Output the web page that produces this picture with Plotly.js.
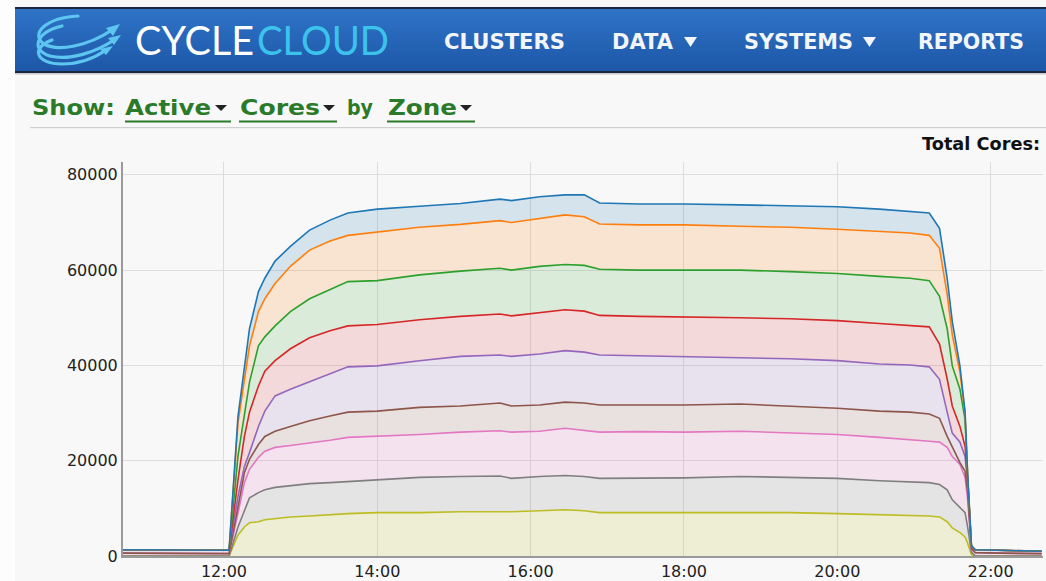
<!DOCTYPE html>
<html>
<head>
<meta charset="utf-8">
<script src="https://cdn.plot.ly/plotly-3.0.1.min.js"></script>
<style>
  html, body { margin: 0; padding: 0; width: 1046px; height: 581px; overflow: hidden; background: #fdfdfd; }
  #panel { position: absolute; left: 15px; top: 0; width: 1031px; height: 581px; background: #f8f8f8; }
  #chart { position: absolute; left: 0; top: 0; width: 1046px; height: 581px; }
  #hdr { position: absolute; left: 0; top: 0; width: 1046px; height: 160px; pointer-events: none; }
</style>
</head>
<body>
<div id="panel"></div>
<div id="chart"></div>
<svg id="hdr" width="1046" height="160" xmlns="http://www.w3.org/2000/svg">
  <defs>
    <linearGradient id="bar" x1="0" y1="0" x2="0" y2="1">
      <stop offset="0" stop-color="#2f74c8"/>
      <stop offset="1" stop-color="#1d56a6"/>
    </linearGradient>
  </defs>
  <rect x="15" y="8" width="1031" height="64" fill="url(#bar)"/>
  <rect x="15" y="7" width="1031" height="2" fill="#1a2740"/>
  <rect x="15" y="71" width="1031" height="2" fill="#1a2740"/>
  <rect x="15" y="73" width="1031" height="1.5" fill="#c8c8c8"/>
  <!-- logo swirl -->
  <g fill="none" stroke="#5cc6f0" stroke-width="3.2" stroke-linecap="round">
    <path d="M 78 16 C 45 18, 30 34, 44 44 C 58 52, 88 46, 112 30"/>
    <path d="M 62 26 C 36 32, 30 50, 50 56 C 70 61, 96 52, 114 40"/>
    <path d="M 52 40 C 30 48, 36 64, 62 64 C 80 64, 96 57, 106 50"/>
  </g>
  <g fill="#5cc6f0">
    <polygon points="120,24 106,28 113,36"/>
    <polygon points="121,35 108,38 114,45"/>
    <polygon points="113,46 100,49 106,55"/>
  </g>
  <text x="135" y="55" font-family="Lato, 'Open Sans', sans-serif" font-weight="400" font-size="41" fill="#ffffff" textLength="119" lengthAdjust="spacingAndGlyphs">CYCLE</text>
  <text x="257" y="55" font-family="Lato, 'Open Sans', sans-serif" font-weight="400" font-size="41" fill="#3cc3ec" textLength="132" lengthAdjust="spacingAndGlyphs">CLOUD</text>
  <!-- menu -->
  <g font-family="'DejaVu Sans', Verdana, sans-serif" font-weight="bold" font-size="21" fill="#f2f6fb">
    <text x="444" y="49" textLength="121" lengthAdjust="spacingAndGlyphs">CLUSTERS</text>
    <text x="612" y="49" textLength="61" lengthAdjust="spacingAndGlyphs">DATA</text>
    <text x="744" y="49" textLength="109" lengthAdjust="spacingAndGlyphs">SYSTEMS</text>
    <text x="918" y="49" textLength="106" lengthAdjust="spacingAndGlyphs">REPORTS</text>
  </g>
  <g fill="#f2f6fb">
    <polygon points="684,37 697,37 690.5,47"/>
    <polygon points="863,37 876,37 869.5,47"/>
  </g>
  <!-- selector line -->
  <g font-family="'DejaVu Sans', Verdana, sans-serif" font-weight="bold" font-size="22" fill="#2a7a2a">
    <text x="32" y="115" textLength="83" lengthAdjust="spacingAndGlyphs">Show:</text>
    <text x="125" y="115" textLength="86" lengthAdjust="spacingAndGlyphs">Active</text>
    <text x="240" y="115" textLength="80" lengthAdjust="spacingAndGlyphs">Cores</text>
    <text x="347" y="115" textLength="26" lengthAdjust="spacingAndGlyphs">by</text>
    <text x="388" y="115" textLength="69" lengthAdjust="spacingAndGlyphs">Zone</text>
  </g>
  <g fill="#222">
    <polygon points="215,105 227,105 221,111"/>
    <polygon points="323,105 335,105 329,111"/>
    <polygon points="460,105 472,105 466,111"/>
  </g>
  <g fill="#2a7a2a">
    <rect x="125" y="120.5" width="106" height="2"/>
    <rect x="239" y="120.5" width="98" height="2"/>
    <rect x="387" y="120.5" width="88" height="2"/>
  </g>
  <rect x="30" y="127" width="1016" height="1.2" fill="#cfcfcf"/>
  <text x="1040" y="150" text-anchor="end" font-family="'DejaVu Sans', Verdana, sans-serif" font-weight="bold" font-size="17" fill="#111" textLength="118" lengthAdjust="spacingAndGlyphs">Total Cores:</text>
</svg>
<script>
// Time of day for each sample (same day)
const times = ['10:40','12:00','12:04','12:11','12:16','12:20','12:27','12:32','12:40','12:52',
  '13:07','13:23','13:37','14:00','14:33','15:05','15:36','15:45','16:07','16:27',
  '16:42','16:54','17:25','18:00','18:44','19:23','20:00','20:33','20:57','21:12',
  '21:20','21:26','21:30','21:36','21:40','21:42','21:45','21:48','22:07','22:40'];

// Stacked level (top edge) of each zone's band, bottom band first
const levelOlive  = [0,0,0,4400,6100,7000,7200,7600,7800,8200, 8400,8700,8900,9100,9100,9300,9300,9300,9500,9700, 9500,9100,9100,9100,9100,9100,8900,8700,8400,8400, 8200,7200,5900,4900,4000,2700,300,0,0,0];
const levelGray   = [0,0,0,6100,9700,12200,13300,13900,14400,14800, 15200,15400,15600,16000,16500,16700,16800,16300,16700,16900, 16700,16300,16400,16400,16700,16500,16300,15800,15600,15400, 15000,13900,11800,10100,9100,6100,800,0,0,0];
const levelPink   = [600,600,500,9000,15400,18200,20700,22000,22800,23200, 23700,24300,24900,25100,25500,26000,26300,26000,26200,26800, 26400,26000,26100,26000,26200,25800,25500,24900,24500,24100, 23900,22800,20900,19200,16500,12000,1400,700,600,500];
const levelBrown  = [600,600,500,10300,17500,20300,23400,25100,26200,27200, 28400,29400,30200,30400,31200,31500,32100,31500,31700,32300, 32100,31700,31700,31700,31900,31500,31000,30400,30200,29800, 28900,25100,22800,19600,17800,13500,1600,700,600,500];
const levelPurple = [1300,1300,1200,12500,18800,21700,27200,30400,33600,35000, 36600,38200,39700,39900,41000,41900,42200,41900,42400,43100, 42800,42200,42000,41800,41600,41400,41000,40300,40100,39700, 37100,30200,25800,23900,20900,15500,1800,1300,1200,1000];
const levelRed    = [1300,1300,1200,16000,25100,30200,35700,38800,41000,43500, 45800,47300,48300,48600,49600,50300,50800,50400,51100,51700, 51400,50500,50300,50200,50000,49800,49400,48800,48300,48100, 44500,37200,31500,27200,23000,16200,1900,1300,1200,1000];
const levelGreen  = [1300,1300,1200,21000,30200,36500,44100,46000,48300,51300, 54000,56000,57600,57800,59000,59800,60400,60000,60800,61200, 61000,60200,60000,60000,60000,59700,59300,58700,58300,57800, 54500,47700,39900,35000,28700,16600,2000,1300,1200,1000];
const levelOrange = [1300,1300,1200,28000,37100,44100,51300,54000,57200,60800, 64200,66100,67300,68000,69000,69600,70400,70000,70900,71600, 71200,69700,69500,69500,69200,69000,68600,68200,67800,67300, 64600,54900,46400,38600,30000,17000,2100,1300,1200,1000];
const levelBlue   = [1300,1300,1200,29300,39900,47700,55500,58300,61900,65000, 68400,70500,72000,72800,73400,74000,74900,74600,75400,75800, 75800,74100,73900,73900,73700,73500,73300,72800,72400,72000, 68800,58300,49200,39900,30200,17400,2200,1300,1200,1000];

const yTicks = [0, 20000, 40000, 60000, 80000];
const xTickText = ['12:00','14:00','16:00','18:00','20:00','22:00'];

const day = '2013-06-01 ';
const x = times.map(t => day + t);

const series = [
  {name: 'Zone 9', y: levelOlive,  color: '#bcbd22', fill: 'rgba(188,189,34,0.16)'},
  {name: 'Zone 8', y: levelGray,   color: '#7f7f7f', fill: 'rgba(127,127,127,0.16)'},
  {name: 'Zone 7', y: levelPink,   color: '#e377c2', fill: 'rgba(227,119,194,0.16)'},
  {name: 'Zone 6', y: levelBrown,  color: '#8c564b', fill: 'rgba(140,86,75,0.14)'},
  {name: 'Zone 5', y: levelPurple, color: '#9467bd', fill: 'rgba(148,103,189,0.16)'},
  {name: 'Zone 4', y: levelRed,    color: '#d62728', fill: 'rgba(214,39,40,0.15)'},
  {name: 'Zone 3', y: levelGreen,  color: '#2ca02c', fill: 'rgba(44,160,44,0.15)'},
  {name: 'Zone 2', y: levelOrange, color: '#ff7f0e', fill: 'rgba(255,127,14,0.16)'},
  {name: 'Zone 1', y: levelBlue,   color: '#1f77b4', fill: 'rgba(31,119,180,0.16)'}
];

const traces = series.map((s, i) => ({
  type: 'scatter', mode: 'lines', name: s.name, x: x, y: s.y,
  fill: i === 0 ? 'tozeroy' : 'tonexty', fillcolor: s.fill,
  line: {color: s.color, width: 1.6}, hoverinfo: 'x+y+name'
}));

const tickVals = xTickText.map(t => day + t);

const layout = {
  width: 1046, height: 581,
  margin: {l: 123, r: 3, t: 162, b: 25},
  paper_bgcolor: 'rgba(0,0,0,0)', plot_bgcolor: 'rgba(0,0,0,0)',
  showlegend: false,
  xaxis: {
    type: 'date', range: [day + '10:41', day + '22:41'],
    tickvals: tickVals, ticktext: xTickText,
    showgrid: true, gridcolor: '#dddddd', gridwidth: 1,
    showline: true, linecolor: '#9a9a9a', linewidth: 2,
    zeroline: false, ticks: '',
    tickfont: {family: 'DejaVu Sans, Verdana, sans-serif', size: 16, color: '#222'}
  },
  yaxis: {
    range: [0, 82700], tickvals: yTicks, tickformat: 'd',
    showgrid: true, gridcolor: '#dddddd', gridwidth: 1,
    showline: true, linecolor: '#9a9a9a', linewidth: 2,
    zeroline: false, ticks: '',
    tickfont: {family: 'DejaVu Sans, Verdana, sans-serif', size: 16, color: '#222'}
  }
};

Plotly.newPlot('chart', traces, layout, {displayModeBar: false, staticPlot: true});
</script>
</body>
</html>
